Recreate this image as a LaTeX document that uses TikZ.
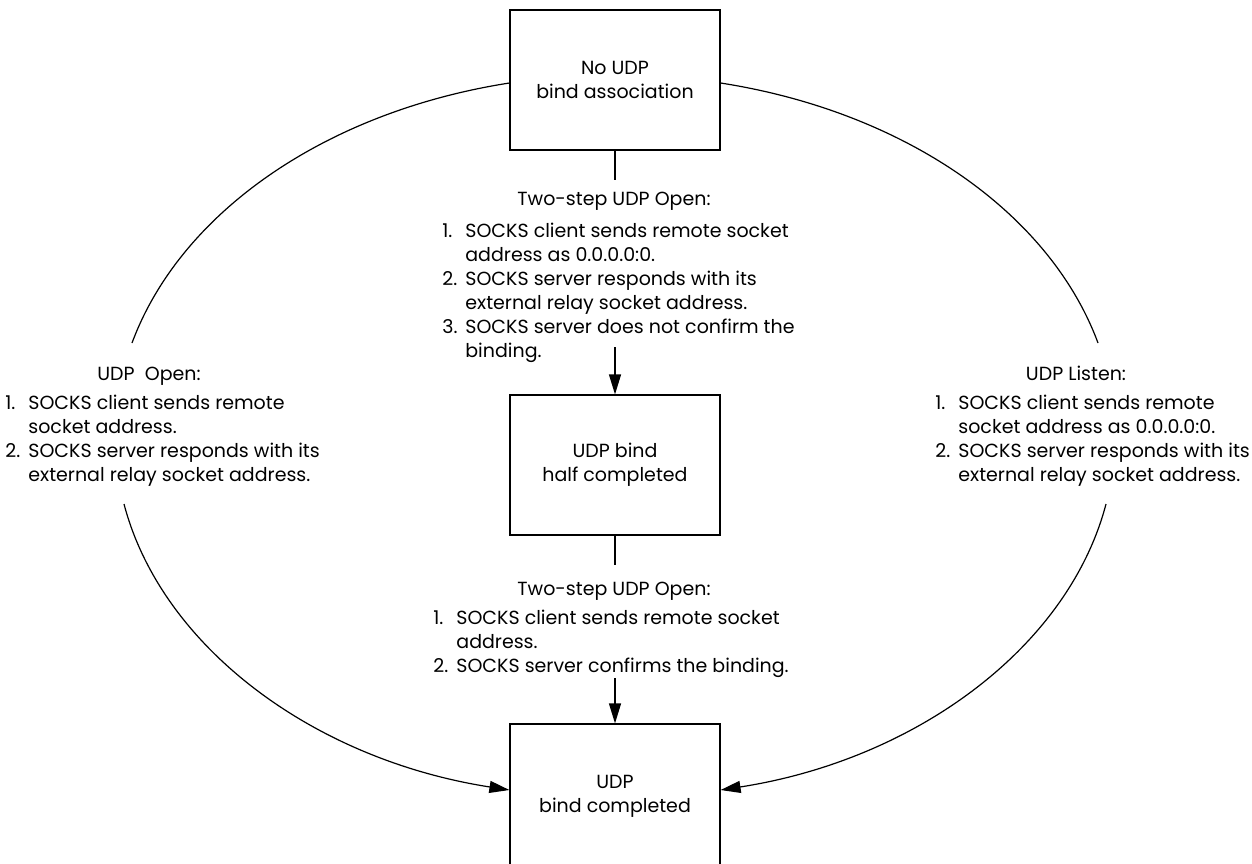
\documentclass[tikz,border=0pt]{standalone}
\usepackage{fontspec}
\setmainfont{Poppins}
\usetikzlibrary{arrows.meta}
\newlength\itemind
\setlength\itemind{11.5pt}
\newcommand\lfont{\fontsize{9.5}{12}\selectfont}
\tikzset{
  box/.style={draw, line width=0.6pt, minimum width=105pt, minimum height=70pt, align=center, inner sep=0pt, font=\lfont},
  hdr/.style={anchor=base, inner sep=0pt, font=\lfont},
  lst/.style={anchor=north west, inner sep=0pt, font=\lfont},
  conn/.style={line width=0.6pt},
  arr/.style={conn, -{Triangle[length=10pt,width=6pt]}},
}
\begin{document}
\begin{tikzpicture}[x=0.5pt, y=-0.5pt]
\useasboundingbox (0,0) rectangle (1252,863);
% boxes
\node[box] (top) at (615,80) {No UDP\\bind association};
\node[box] (mid) at (615,465) {UDP bind\\half completed};
\node[box, minimum height=72pt] (bot) at (615,796) {UDP\\bind completed};
% middle upper label
\node[hdr] (h1) at (614,205) {Two-step UDP Open:};
\node[lst] (l1) at (442,220) {\begin{tabular}{@{}p{\itemind}@{}l@{}}
1. & SOCKS client sends remote socket\\
   & address as 0.0.0.0:0.\\
2. & SOCKS server responds with its\\
   & external relay socket address.\\
3. & SOCKS server does not confirm the\\
   & binding.
\end{tabular}};
% middle lower label
\node[hdr] (h2) at (614,595) {Two-step UDP Open:};
\node[lst] (l2) at (433,607) {\begin{tabular}{@{}p{\itemind}@{}l@{}}
1. & SOCKS client sends remote socket\\
   & address.\\
2. & SOCKS server confirms the binding.
\end{tabular}};
% left label
\node[hdr] (h3) at (149,380) {UDP\ \ Open:};
\node[lst] (l3) at (5,392) {\begin{tabular}{@{}p{\itemind}@{}l@{}}
1. & SOCKS client sends remote\\
   & socket address.\\
2. & SOCKS server responds with its\\
   & external relay socket address.
\end{tabular}};
% right label
\node[hdr] (h4) at (1076,380) {UDP Listen:};
\node[lst] (l4) at (935,392) {\begin{tabular}{@{}p{\itemind}@{}l@{}}
1. & SOCKS client sends remote\\
   & socket address as 0.0.0.0:0.\\
2. & SOCKS server responds with its\\
   & external relay socket address.
\end{tabular}};
% free ends
\coordinate (c1) at (615,180);
\coordinate (c2) at (615,347);
\coordinate (c3) at (615,565);
\coordinate (c4) at (615,678);
\coordinate (ul) at (132,343);
\coordinate (ll) at (124,504);
\coordinate (ur) at (1098,343);
\coordinate (lr) at (1106,504);
% vertical connectors
\draw[conn] (top.south) -- (c1);
\draw[arr] (c2) -- (mid.north);
\draw[conn] (mid.south) -- (c3);
\draw[arr] (c4) -- (bot.north);
% elliptical connectors
\draw[conn] ([yshift=-1.5pt]top.west) .. controls (326.5,111.5) and (180.6,211.8) .. (ul);
\draw[arr] (ll) .. controls (161.6,647.1) and (313.7,759.6) .. ([yshift=3pt]bot.west);
\draw[conn] ([yshift=-1.5pt]top.east) .. controls (903.5,111.5) and (1049.4,211.8) .. (ur);
\draw[arr] (lr) .. controls (1068.4,647.1) and (916.3,759.6) .. ([yshift=3pt]bot.east);
\end{tikzpicture}
\end{document}
